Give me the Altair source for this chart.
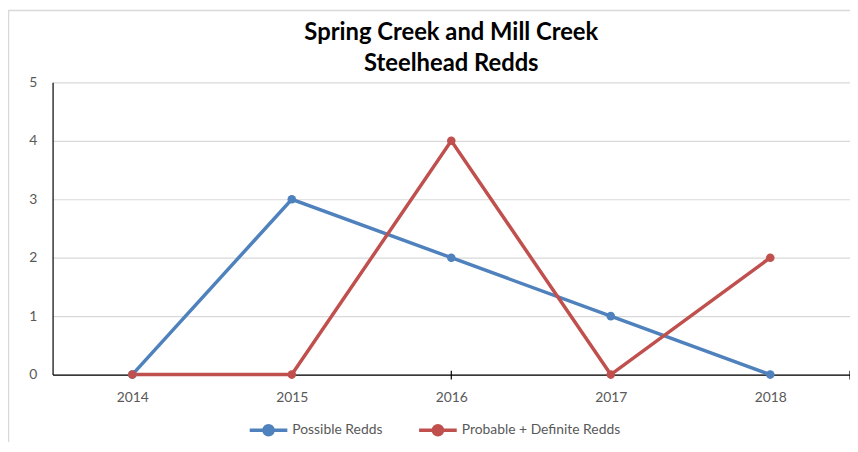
import altair as alt
import pandas as pd

years = [2014, 2015, 2016, 2017, 2018]
possible = [0, 3, 2, 1, 0]
probable_definite = [0, 0, 4, 0, 2]
series_names = ["Possible Redds", "Probable + Definite Redds"]
colors = ["#4F81BD", "#C0504D"]
y_ticks = [0, 1, 2, 3, 4, 5]
x_tick_marks = [2016, 2018.5]
title_lines = ["Spring Creek and Mill Creek", "Steelhead Redds"]

rows = []
for y, a, b in zip(years, possible, probable_definite):
    rows.append({"year": y, "series": series_names[0], "value": a})
    rows.append({"year": y, "series": series_names[1], "value": b})
df = pd.DataFrame(rows)
ticks_df = pd.DataFrame({"t": x_tick_marks})

W, H = 805, 295
FONT = "Lato"
GRAY = "#595959"

x_enc = alt.X(
    "year:Q",
    scale=alt.Scale(domain=[2013.5, 2018.5], nice=False, zero=False),
    axis=alt.Axis(
        values=years, format="d", title=None, grid=False, tickSize=0,
        domainColor="#000000", domainWidth=1.2, labelPadding=16,
        labelFont=FONT, labelFontSize=14, labelColor=GRAY,
    ),
)
y_enc = alt.Y(
    "value:Q",
    scale=alt.Scale(domain=[0, 5], nice=False),
    axis=alt.Axis(
        values=y_ticks, format="d", title=None, tickSize=0, grid=True,
        gridColor="#D9D9D9", gridWidth=1.2, domainColor="#000000",
        domainWidth=1.2, labelPadding=16, labelFont=FONT,
        labelFontSize=14, labelColor=GRAY,
    ),
)
color_enc = alt.Color(
    "series:N",
    scale=alt.Scale(domain=series_names, range=colors),
    sort=series_names,
    legend=alt.Legend(
        title=None, orient="none", direction="horizontal", columns=2,
        legendX=197, legendY=330, padding=0, labelLimit=400,
        symbolType="M-1,0H1M-0.24,0A0.24,0.24 0 1,0 0.24,0A0.24,0.24 0 1,0 -0.24,0Z",
        symbolSize=1444, symbolStrokeWidth=3.5, labelOffset=3,
        columnPadding=29, labelFont=FONT, labelFontSize=14,
        labelColor=GRAY,
    ),
)

base = alt.Chart(df)
lines = base.mark_line(strokeWidth=3.5).encode(x=x_enc, y=y_enc, color=color_enc)
points = base.mark_point(filled=True, size=75, opacity=1).encode(
    x="year:Q", y="value:Q", color=alt.Color("series:N", sort=series_names)
)
tick_marks = alt.Chart(ticks_df).mark_rule(color="#000000", strokeWidth=1.2).encode(
    x="t:Q", y=alt.value(H - 4), y2=alt.value(H + 5)
)
frame_left = alt.Chart(ticks_df.head(1)).mark_rule(color="#D9D9D9", strokeWidth=1.5).encode(
    x=alt.value(-44.5), y=alt.value(-72.5), y2=alt.value(H + 68)
)
frame_top = alt.Chart(ticks_df.head(1)).mark_rule(color="#D9D9D9", strokeWidth=1.5).encode(
    x=alt.value(-45), x2=alt.value(W), y=alt.value(-72.5)
)

chart = alt.layer(lines, points, tick_marks, frame_left, frame_top).properties(
    width=W, height=H,
    autosize=alt.AutoSizeParams(type="none"),
    padding={"left": 45, "top": 73, "right": 0, "bottom": 68},
    title=alt.TitleParams(
        text=title_lines, anchor="middle", font=FONT, fontSize=24,
        fontWeight="bold", color="#000000", lineHeight=32, offset=0,
        baseline="top", dy=67,
    ),
).configure_view(strokeWidth=0)

chart.save("out.html", embed_options={"renderer": "svg", "actions": False})
